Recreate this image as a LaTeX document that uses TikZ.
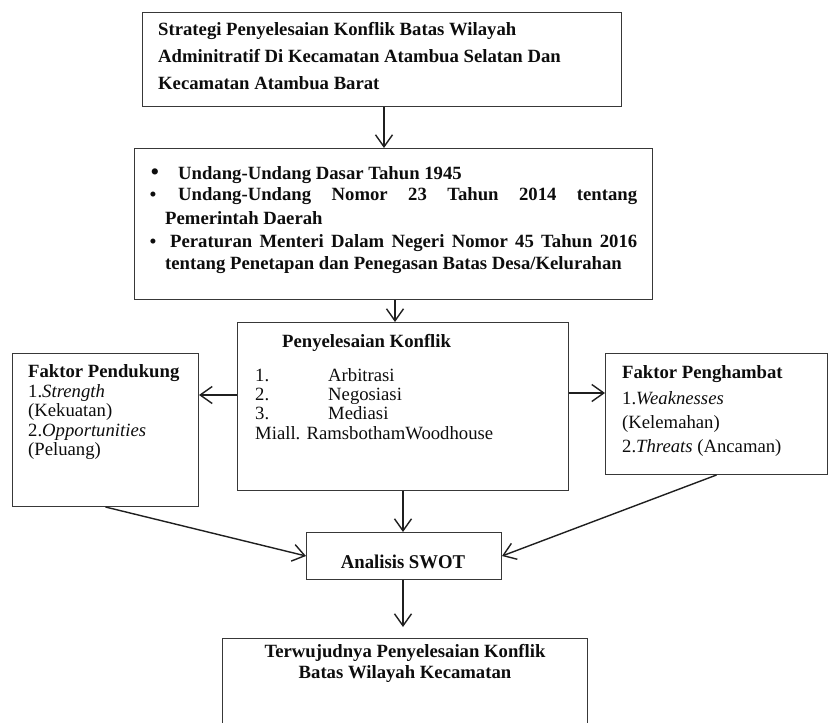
\documentclass[tikz,border=0pt]{standalone}
\usepackage{fontspec}
\setmainfont{Liberation Serif}
\usetikzlibrary{arrows.meta}
\begin{document}
\begin{tikzpicture}[x=1pt,y=-1pt,
  boxst/.style={draw=black!78, line width=1pt, anchor=north west, inner sep=0pt},
  txt/.style={inner sep=0pt, anchor=base west, font=\fontsize{18.7}{22}\selectfont, text=black!95},
  btxt/.style={txt, font=\fontsize{18.7}{22}\selectfont\bfseries},
  cbtxt/.style={btxt, anchor=base},
  arr/.style={draw=black!88, line width=1.4pt, -{Straight Barb[length=12pt,width=17pt]}}]
\clip (0,0) rectangle (828,723);
% box 1
\node[boxst, minimum width=479pt, minimum height=94pt] (b1) at (142,12) {};
\node[btxt] (b1a) at (158,35) {Strategi Penyelesaian Konflik Batas Wilayah};
\node[btxt] (b1b) at (158,62) {Adminitratif Di Kecamatan Atambua Selatan Dan};
\node[btxt] (b1c) at (158,89) {Kecamatan Atambua Barat};
% box 2
\node[boxst, minimum width=518pt, minimum height=151pt] (b2) at (134,148) {};
\node[txt, anchor=base, font=\fontsize{26}{26}\selectfont] (bu1) at (155,180) {•};
\node[btxt] (b2a) at (178,179) {Undang-Undang Dasar Tahun 1945};
\node[txt, anchor=base, font=\fontsize{21}{21}\selectfont] (bu2) at (153,201) {•};
\node[btxt] (b2b) at (178,200) {\makebox[459pt][s]{Undang-Undang Nomor 23 Tahun 2014 tentang}};
\node[btxt] (b2c) at (165,224) {Pemerintah Daerah};
\node[txt, anchor=base, font=\fontsize{21}{21}\selectfont] (bu3) at (153,248) {•};
\node[btxt] (b2d) at (170,247) {\makebox[467pt][s]{Peraturan Menteri Dalam Negeri Nomor 45 Tahun 2016}};
\node[btxt] (b2e) at (165,269) {tentang Penetapan dan Penegasan Batas Desa/Kelurahan};
% box 3
\node[boxst, minimum width=331pt, minimum height=168pt] (b3) at (237,322) {};
\node[btxt] (b3t) at (282,347) {Penyelesaian Konflik};
\node[txt] (b3n1) at (255,381) {1.};
\node[txt] (b3a) at (328,381) {Arbitrasi};
\node[txt] (b3n2) at (255,400) {2.};
\node[txt] (b3b) at (328,400) {Negosiasi};
\node[txt] (b3n3) at (255,419) {3.};
\node[txt] (b3c) at (328,419) {Mediasi};
\node[txt] (b3d) at (255,439) {Miall. RamsbothamWoodhouse};
% Faktor Pendukung
\node[boxst, minimum width=186pt, minimum height=153pt] (pend) at (12,353) {};
\node[btxt] (pt) at (28,377) {Faktor Pendukung};
\node[txt] (p1) at (28,397) {1.\textit{Strength}};
\node[txt] (p2) at (28,416) {(Kekuatan)};
\node[txt] (p3) at (28,436) {2.\textit{Opportunities}};
\node[txt] (p4) at (28,455) {(Peluang)};
% Faktor Penghambat
\node[boxst, minimum width=222pt, minimum height=121pt] (pengh) at (605,353) {};
\node[btxt] (ht) at (622,378) {Faktor Penghambat};
\node[txt] (h1) at (622,404) {1.\textit{Weaknesses}};
\node[txt] (h2) at (622,428) {(Kelemahan)};
\node[txt] (h3) at (622,452) {2.\textit{Threats} (Ancaman)};
% SWOT
\node[boxst, minimum width=195pt, minimum height=47pt] (swot) at (306,532) {};
\node[cbtxt, font=\fontsize{19.5}{22}\selectfont\bfseries] (st) at (403,568) {\scalebox{0.96}[1]{Analisis SWOT}};
% bottom box
\node[boxst, minimum width=365pt, minimum height=130pt] (b5) at (222,638) {};
\node[cbtxt] (b5a) at (405,657) {Terwujudnya Penyelesaian Konflik};
\node[cbtxt] (b5b) at (405,678) {Batas Wilayah Kecamatan};
% connectors
\draw[arr] (b1.south -| 384,0) -- (b2.north -| 384,0);
\draw[arr] (b2.south -| 395,0) -- (b3.north -| 395,0);
\draw[arr] (b3.west |- 0,395) -- (pend.east |- 0,395);
\draw[arr] (b3.east |- 0,393) -- (pengh.west |- 0,393);
\draw[arr] (b3.south -| 403,0) -- (swot.north -| 403,0);
\draw[arr] (pend.south) -- (swot.west);
\draw[arr] (pengh.south) -- (swot.east);
\draw[arr, shorten >=11pt] (swot.south -| 403,0) -- (b5.north -| 403,0);
\end{tikzpicture}
\end{document}
